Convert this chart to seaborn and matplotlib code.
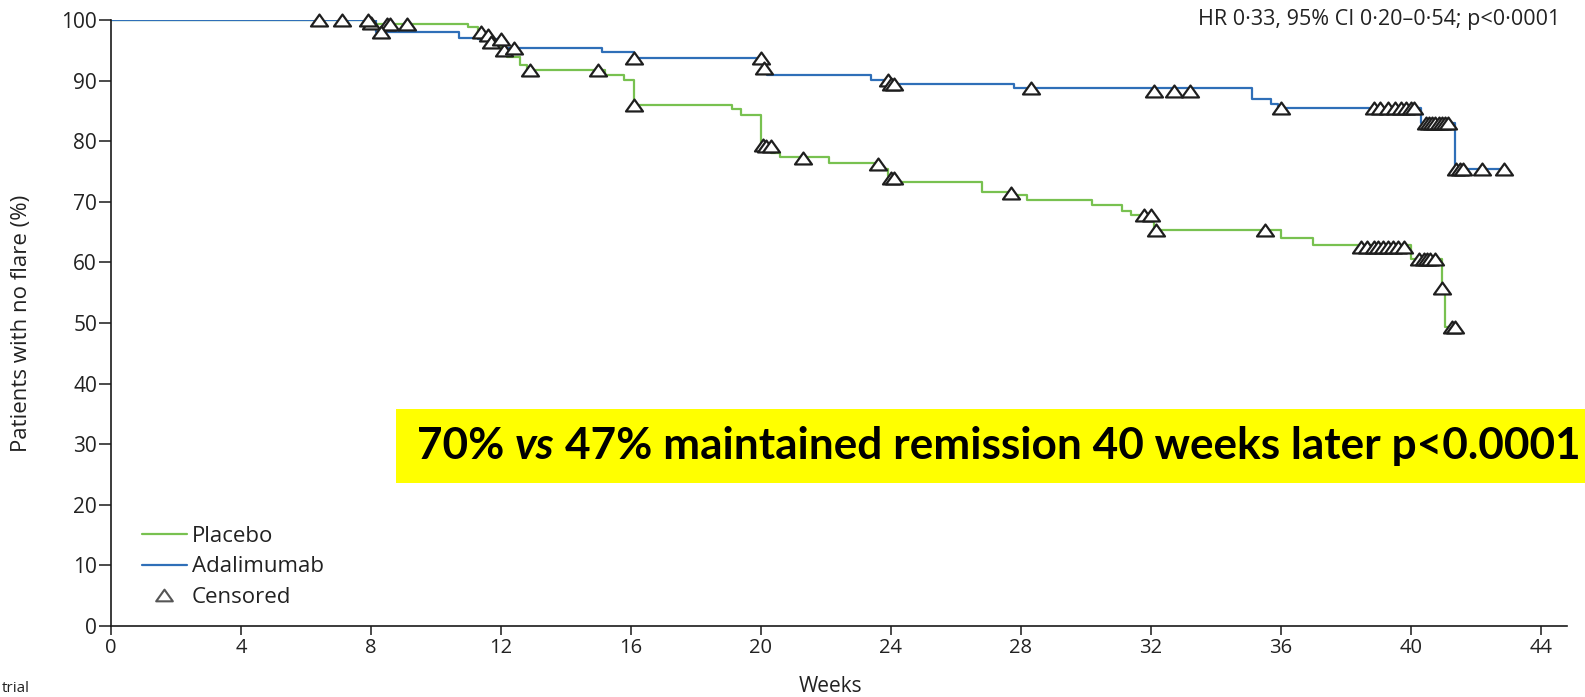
import matplotlib
matplotlib.use('Agg')
import matplotlib.pyplot as plt
import seaborn as sns
import pandas as pd
from matplotlib.path import Path
from matplotlib.lines import Line2D
from matplotlib.patches import Rectangle
from matplotlib.offsetbox import TextArea, HPacker, AnnotationBbox

# Kaplan-Meier steps (weeks, % with no flare)
ada_weeks = [0, 8.15, 10.7, 11.3, 12.1, 15.1, 16.1, 20.05, 20.2, 23.4, 23.9, 27.8,
             35.1, 35.7, 35.9, 40.3, 41.35, 42.9]
ada_pct = [100, 98.1, 97.1, 96.8, 95.3, 94.7, 93.8, 92.0, 90.9, 90.1, 89.5, 88.7,
           86.9, 86.2, 85.5, 83.0, 75.4, 75.4]

pbo_weeks = [0, 8.0, 11.0, 11.3, 11.7, 12.0, 12.2, 12.6, 12.8, 15.2, 15.8, 16.1,
             19.1, 19.4, 20.0, 20.3, 20.6, 22.1, 23.6, 23.9, 24.2, 26.8, 27.7, 28.2,
             30.2, 31.1, 31.4, 32.1, 36.0, 37.0, 40.0, 40.95, 41.05, 41.4]
pbo_pct = [100, 99.4, 98.9, 97.6, 96.5, 95.4, 93.9, 92.6, 91.7, 90.9, 90.1, 86.0,
           85.3, 84.4, 79.4, 78.0, 77.4, 76.4, 75.4, 74.3, 73.3, 71.6, 71.1, 70.3,
           69.4, 68.5, 67.9, 65.3, 64.0, 62.8, 60.5, 55.8, 49.4, 49.4]

# censored observations
ada_cens_weeks = [6.4, 7.1, 7.9, 8.3, 12.0, 12.4, 16.1, 20.0, 20.1, 23.9, 24.0, 24.1,
                  28.3, 32.1, 32.7, 33.2, 36.0,
                  38.85, 39.05, 39.3, 39.5, 39.7, 39.85, 40.0, 40.1,
                  40.45, 40.55, 40.65, 40.75, 40.85, 40.95, 41.05, 41.15,
                  41.4, 41.5, 41.6, 42.2, 42.85]
ada_cens_pct = [100, 100, 100, 98.1, 96.9, 95.3, 93.8, 93.8, 92.0, 90.1, 89.5, 89.4,
                88.7, 88.3, 88.3, 88.3, 85.5,
                85.5, 85.5, 85.5, 85.5, 85.5, 85.5, 85.5, 85.5,
                83.0, 83.0, 83.0, 83.0, 83.0, 83.0, 83.0, 83.0,
                75.4, 75.4, 75.4, 75.4, 75.4]

pbo_cens_weeks = [8.0, 8.5, 8.6, 9.1, 11.4, 11.6, 11.7, 12.1, 12.9, 15.0, 16.1,
                  20.05, 20.15, 20.3, 21.3, 23.6, 24.0, 24.1, 27.7, 31.8, 32.0, 32.15, 35.5,
                  38.45, 38.65, 38.85, 39.0, 39.15, 39.3, 39.45, 39.6, 39.8,
                  40.25, 40.4, 40.5, 40.6, 40.75, 40.95, 41.25, 41.35]
pbo_cens_pct = [99.5, 99.4, 99.4, 99.4, 98.0, 97.5, 96.4, 95.0, 91.7, 91.7, 86.0,
                79.4, 79.2, 79.2, 77.2, 76.2, 74.0, 74.0, 71.4, 67.9, 67.9, 65.3, 65.3,
                62.6, 62.6, 62.6, 62.6, 62.6, 62.6, 62.6, 62.6, 62.6,
                60.5, 60.5, 60.5, 60.5, 60.5, 55.8, 49.4, 49.4]

x_ticks = [0, 4, 8, 12, 16, 20, 24, 28, 32, 36, 40, 44]
y_ticks = [0, 10, 20, 30, 40, 50, 60, 70, 80, 90, 100]

GREEN = '#78c150'
BLUE = '#2f6fb8'
INK = '#222222'

sns.set_style('ticks')
plt.rcParams['font.family'] = ['Open Sans', 'DejaVu Sans']

fig = plt.figure(figsize=(15.85, 6.97), dpi=100)
ax = fig.add_axes([0.070, 0.1019, 0.9186, 0.8694])

ada = pd.DataFrame({'week': ada_weeks, 'pct': ada_pct})
pbo = pd.DataFrame({'week': pbo_weeks, 'pct': pbo_pct})

sns.lineplot(data=pbo, x='week', y='pct', drawstyle='steps-post', estimator=None,
             sort=False, color=GREEN, lw=1.6, ax=ax)
sns.lineplot(data=ada, x='week', y='pct', drawstyle='steps-post', estimator=None,
             sort=False, color=BLUE, lw=1.6, ax=ax)

# flat open triangle used for censored marks
tri = Path([(0, 0.7), (-1, -0.7), (1, -0.7), (0, 0.7)],
           [Path.MOVETO, Path.LINETO, Path.LINETO, Path.CLOSEPOLY])

for cw, cp in [(pbo_cens_weeks, pbo_cens_pct), (ada_cens_weeks, ada_cens_pct)]:
    sns.scatterplot(x=cw, y=cp, marker=tri, s=150, color='white', edgecolor='#1e1e1e',
                    linewidth=1.6, zorder=3, clip_on=False, ax=ax)

ax.set_xlim(0, 44.8)
ax.set_ylim(0, 100)
ax.set_xticks(x_ticks)
ax.set_yticks(y_ticks)
sns.despine(ax=ax)
for s in ['left', 'bottom']:
    ax.spines[s].set_linewidth(1.2)
    ax.spines[s].set_color('#1a1a1a')
ax.tick_params(axis='y', length=9, width=1.1, labelsize=15, pad=1, colors='#1a1a1a',
               labelcolor=INK)
ax.tick_params(axis='x', length=6.5, width=1.1, labelsize=14.5, pad=2, colors='#1a1a1a',
               labelcolor=INK)

ax.set_xlabel('Weeks', fontsize=15, color=INK, va='top')
ax.xaxis.set_label_coords(0.4945, -0.083)
ax.set_ylabel('Patients with no flare (%)', fontsize=16, color=INK)
ax.yaxis.set_label_coords(-0.0545, 0.5)

handles = [
    Line2D([], [], color=GREEN, lw=1.6, label='Placebo'),
    Line2D([], [], color=BLUE, lw=1.6, label='Adalimumab'),
    Line2D([], [], ls='none', marker=tri, markersize=12, markerfacecolor='white',
           markeredgecolor='#555555', markeredgewidth=1.5, label='Censored'),
]
leg = ax.legend(handles=handles, loc='lower left', bbox_to_anchor=(0.021, 0.03),
                frameon=False, fontsize=16, handlelength=2.05, handletextpad=0.2,
                labelspacing=0.42, borderpad=0, borderaxespad=0)
for t in leg.get_texts():
    t.set_color(INK)

fig.text(1560 / 1585, 1 - 20 / 697, 'HR 0·33, 95% CI 0·20–0·54; p<0·0001',
         ha='right', va='center', fontsize=15.5, color=INK)

# yellow highlight with the headline result
fig.add_artist(Rectangle((396 / 1585, 1 - 483 / 697), 1 - 396 / 1585 + 0.01, 74 / 697,
                         transform=fig.transFigure, facecolor='#ffff00',
                         edgecolor='none', zorder=4))
bold = dict(fontsize=31.8, fontweight='bold', family='Lato', color='black')
ital = dict(bold, style='italic')
parts = HPacker(children=[TextArea('70%', textprops=bold),
                          TextArea('vs', textprops=ital),
                          TextArea('47% maintained remission 40 weeks later p<0.0001',
                                   textprops=bold)],
                align='baseline', pad=0, sep=7.5)
ab = AnnotationBbox(parts, (417 / 1585, 1 - 446 / 697), xycoords='figure fraction',
                    box_alignment=(0, 0.5), frameon=False, pad=0, zorder=5)
fig.add_artist(ab)

# caption fragment at the bottom edge
fig.text(2 / 1585, 1 / 697, 'trial', fontsize=11, va='bottom', color=INK)

fig.savefig('out.png', dpi=100)
